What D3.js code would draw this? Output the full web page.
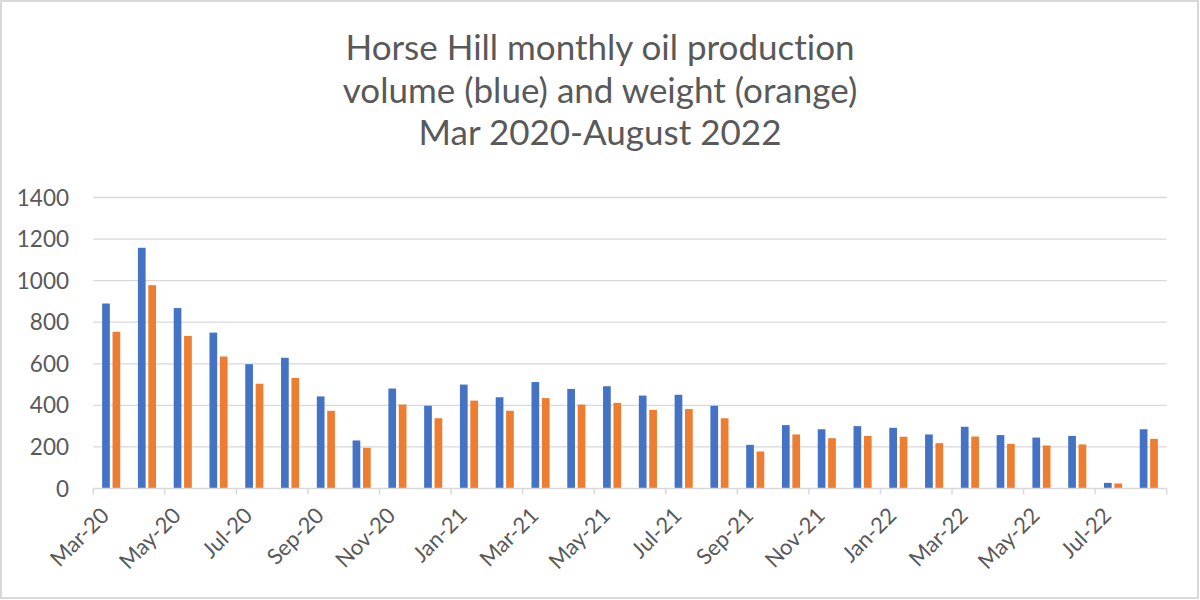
<!DOCTYPE html>
<html><head><meta charset="utf-8">
<script src="https://cdn.jsdelivr.net/npm/d3@7"></script>
<style>html,body{margin:0;padding:0;background:#fff;}svg{display:block;}text{font-variant-ligatures:none;}</style>
</head><body>
<svg id="chart" width="1200" height="600"></svg>
<script>
(function(){
const months = ["Mar-20","Apr-20","May-20","Jun-20","Jul-20","Aug-20","Sep-20","Oct-20","Nov-20","Dec-20",
  "Jan-21","Feb-21","Mar-21","Apr-21","May-21","Jun-21","Jul-21","Aug-21","Sep-21","Oct-21",
  "Nov-21","Dec-21","Jan-22","Feb-22","Mar-22","Apr-22","May-22","Jun-22","Jul-22","Aug-22"];
const volume = [890,1158,868,750,598,629,443,231,481,398,
  500,439,512,479,492,447,451,398,210,305,
  285,300,292,260,297,257,245,253,27,285];
const weight = [754,978,734,635,504,532,374,196,404,338,
  423,374,435,404,412,378,382,338,178,260,
  242,253,249,218,250,215,207,212,24,239];
const yTicks = [0,200,400,600,800,1000,1200,1400];
const titleLines = ["Horse Hill monthly oil production","volume (blue) and weight (orange)","Mar 2020-August 2022"];
const seriesNames = ["volume","weight"];
const colors = ["#4472C4","#ED7D31"];

const svg = d3.select("#chart");
const textColor = "#595959";
const font = "Lato, 'Open Sans', sans-serif";

svg.append("rect").attr("x",1).attr("y",1).attr("width",1197).attr("height",597)
  .attr("fill","#fff").attr("stroke","#d9d9d9").attr("stroke-width",2);

const pl = 93.3, pr = 1166.7, pt = 197.5, pb = 488.5;
const x0 = d3.scaleBand().domain(months).range([pl,pr]).paddingInner(0.494).paddingOuter(0.247);
const x1 = d3.scaleBand().domain(seriesNames).range([0,x0.bandwidth()]).paddingInner(0.26).paddingOuter(0);
const y = d3.scaleLinear().domain([0,1400]).range([pb,pt]);

svg.append("g").selectAll("line").data(yTicks.filter(d=>d>0)).join("line")
  .attr("x1",pl).attr("x2",pr).attr("y1",d=>y(d)).attr("y2",d=>y(d))
  .attr("stroke","#d9d9d9").attr("stroke-width",1.3);

svg.append("g").selectAll("text").data(yTicks).join("text")
  .attr("x",69).attr("y",d=>y(d)).attr("dy","0.36em").attr("text-anchor","end")
  .attr("font-family",font).attr("font-size",22.5).attr("fill",textColor).text(d=>d);

const data = months.map((m,i)=>({m, vals:[volume[i],weight[i]]}));
const g = svg.append("g").selectAll("g").data(data).join("g")
  .attr("transform",d=>`translate(${x0(d.m)},0)`);
g.selectAll("rect").data(d=>d.vals.map((v,j)=>({k:seriesNames[j],v,j}))).join("rect")
  .attr("x",d=>x1(d.k)).attr("width",x1.bandwidth())
  .attr("y",d=>y(d.v)).attr("height",d=>y(0)-y(d.v)).attr("fill",d=>colors[d.j]);

svg.append("line").attr("x1",pl).attr("x2",pr).attr("y1",pb).attr("y2",pb)
  .attr("stroke","#d9d9d9").attr("stroke-width",1.5);
const step = x0.step();
const tickIdx = d3.range(0, months.length+1, 2);
svg.append("g").selectAll("line").data(tickIdx).join("line")
  .attr("x1",i=>pl+i*step).attr("x2",i=>pl+i*step).attr("y1",pb).attr("y2",pb+6)
  .attr("stroke","#d9d9d9").attr("stroke-width",1.5);

svg.append("g").selectAll("text").data(months.filter((m,i)=>i%2===0)).join("text")
  .attr("transform",m=>`translate(${x0(m)+x0.bandwidth()/2-6},${pb+23}) rotate(-45)`)
  .attr("text-anchor","end").attr("dy","0.35em")
  .attr("font-family",font).attr("font-size",22).attr("fill",textColor).text(m=>m);

svg.append("g").selectAll("text").data(titleLines).join("text")
  .attr("x",600).attr("y",(d,i)=>60+i*42.5).attr("text-anchor","middle")
  .attr("font-family",font).attr("font-size",35).attr("fill",textColor).text(d=>d);
})();
</script>
</body></html>
